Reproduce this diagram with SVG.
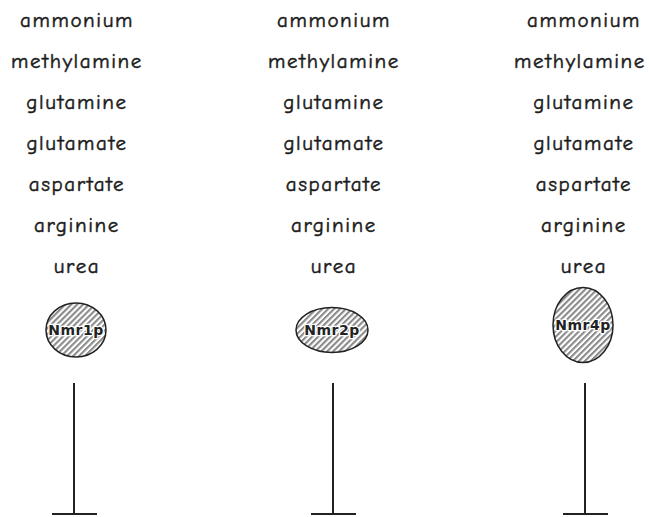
<svg xmlns="http://www.w3.org/2000/svg" width="649" height="517" viewBox="0 0 649 517">
<style>
.t{font-family:"Comic Neue","Open Sans","DejaVu Sans",sans-serif;font-size:21px;letter-spacing:1.6px;fill:#1a1a1a;stroke:#1a1a1a;stroke-width:0.5;text-anchor:middle}
.n{font-family:"DejaVu Sans",sans-serif;font-size:14px;font-weight:bold;letter-spacing:0.5px;fill:#222;text-anchor:middle;stroke:#fff;stroke-width:2.5;paint-order:stroke;stroke-linejoin:round}
.e{fill:url(#hatch);stroke:#222;stroke-width:1.5}
.c{stroke:#222;stroke-width:2;fill:none}
</style>
<defs>
<pattern id="hatch" patternUnits="userSpaceOnUse" width="4.2" height="4.2" patternTransform="rotate(45)">
<rect width="4.2" height="4.2" fill="#fff"/>
<rect width="2.1" height="4.2" fill="#8a8a8a"/>
</pattern>
</defs>
<rect width="649" height="517" fill="#fff"/>
<g id="labels">
<g class="t">
<text x="77" y="27">ammonium</text><text x="77" y="68">methylamine</text><text x="77" y="109">glutamine</text><text x="77" y="150">glutamate</text><text x="77" y="191">aspartate</text><text x="77" y="232">arginine</text><text x="77" y="273">urea</text>
<text x="334" y="27">ammonium</text><text x="334" y="68">methylamine</text><text x="334" y="109">glutamine</text><text x="334" y="150">glutamate</text><text x="334" y="191">aspartate</text><text x="334" y="232">arginine</text><text x="334" y="273">urea</text>
<text x="584" y="27">ammonium</text><text x="580" y="68">methylamine</text><text x="584" y="109">glutamine</text><text x="584" y="150">glutamate</text><text x="584" y="191">aspartate</text><text x="584" y="232">arginine</text><text x="584" y="273">urea</text>
</g>
</g>
<g id="Nmr1p"><ellipse class="e" cx="76" cy="330" rx="30" ry="27"/><text class="n" x="76" y="335">Nmr1p</text></g>
<g id="Nmr2p"><ellipse class="e" cx="332" cy="330" rx="36" ry="22.5"/><text class="n" x="332" y="335">Nmr2p</text></g>
<g id="Nmr4p"><ellipse class="e" cx="583" cy="325" rx="30" ry="37.5"/><text class="n" x="583" y="330">Nmr4p</text></g>
<g id="connectors">
<path class="c" d="M74,383V514M52,514H97"/>
<path class="c" d="M333,383V514M311,514H356"/>
<path class="c" d="M585,383V514M563,514H608"/>
</g>
</svg>
